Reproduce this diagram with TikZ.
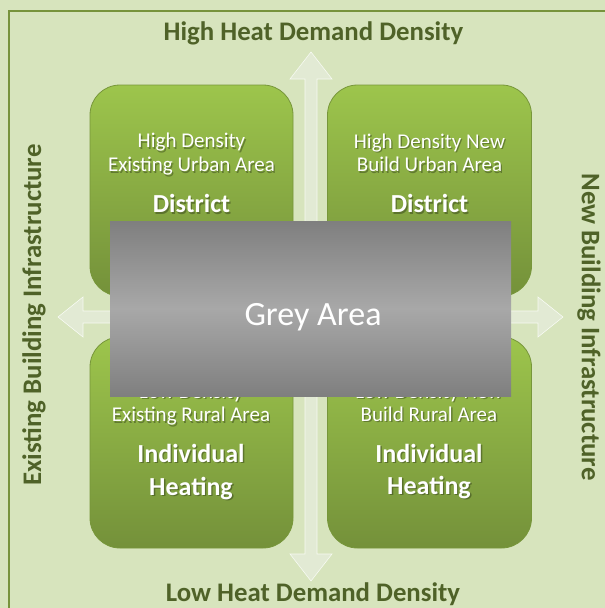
\documentclass[tikz,border=0pt]{standalone}
\usepackage{fontspec}
\setmainfont{Carlito}
\definecolor{bg}{HTML}{D7E4BD}
\definecolor{framec}{HTML}{77933C}
\definecolor{titlec}{HTML}{4F6228}
\definecolor{boxtop}{HTML}{9DC54C}
\definecolor{boxbot}{HTML}{74913A}
\definecolor{boxedge}{HTML}{77963A}
\definecolor{arrowfill}{HTML}{E2EAD4}
\definecolor{greyA}{HTML}{7F7F7F}
\definecolor{greyB}{HTML}{A8A8A8}
\newcommand\shadowtext[4]{% name, x, y, content (with font)
  \node[btxt, text=black, opacity=0.3] (#1s) at (#2+1.3,#3+1.3) {#4};
  \node[btxt, text=white] (#1) at (#2,#3) {#4};}
\begin{document}
\begin{tikzpicture}[x=1pt,y=-1pt,
  gbox/.style={draw=boxedge, line width=0.8pt, rounded corners=30pt, top color=boxtop, bottom color=boxbot, inner sep=0pt},
  btxt/.style={anchor=base, inner sep=0pt},
  axistxt/.style={text=titlec, font=\fontsize{26.8}{30}\selectfont\bfseries, inner sep=0pt},
  arrowshape/.style={fill=arrowfill, draw=white!80!bg, line width=0.6pt}]
\useasboundingbox (0,0) rectangle (605,608);
\clip (0,0) rectangle (605,608);
\fill[bg] (0,0) rectangle (605,608);
\draw[framec, line width=2.5pt] (9,640) -- (9,11) -- (640,11);
% arrows
\coordinate (vt) at (311,52);
\coordinate (vb) at (311,581);
\coordinate (hl) at (58,317);
\coordinate (hr) at (563,317);
\filldraw[arrowshape] (vt) -- ++(21,27) -- ++(-15,0) -- (317,554) -- ++(15,0) -- (vb) -- (290,554) -- ++(15,0) -- (305,79) -- ++(-15,0) -- cycle;
\filldraw[arrowshape] (hl) -- ++(25,-20) -- ++(0,14) -- (538,311) -- ++(0,-14) -- (hr) -- (538,337) -- ++(0,-14) -- (83,323) -- ++(0,14) -- cycle;
% boxes
\node[gbox, minimum width=203pt, minimum height=211pt] (tl) at (191.5,190.5) {};
\node[gbox, minimum width=204pt, minimum height=211pt] (tr) at (429.5,190.5) {};
\node[gbox, minimum width=203pt, minimum height=211pt] (bl) at (191.5,442.5) {};
\node[gbox, minimum width=204pt, minimum height=211pt] (br) at (429.5,442.5) {};
% box texts
\shadowtext{tla}{191.5}{147.7}{\fontsize{21}{24}\selectfont High Density}
\shadowtext{tlb}{191.5}{171.7}{\fontsize{21}{24}\selectfont Existing Urban Area}
\shadowtext{tlc}{191.5}{212.7}{\fontsize{26}{30}\selectfont\bfseries District}
\shadowtext{tra}{429.5}{148}{\fontsize{21}{24}\selectfont High Density New}
\shadowtext{trb}{429.5}{171.7}{\fontsize{21}{24}\selectfont Build Urban Area}
\shadowtext{trc}{429.5}{212.7}{\fontsize{26}{30}\selectfont\bfseries District}
\shadowtext{bla}{191}{398.5}{\fontsize{21}{24}\selectfont Low Density}
\shadowtext{blb}{191}{421.7}{\fontsize{21}{24}\selectfont Existing Rural Area}
\shadowtext{blc}{191}{462}{\fontsize{26}{30}\selectfont\bfseries Individual}
\shadowtext{bld}{191}{495}{\fontsize{26}{30}\selectfont\bfseries Heating}
\shadowtext{bra}{429}{398}{\fontsize{21}{24}\selectfont Low Density New}
\shadowtext{brb}{429}{421}{\fontsize{21}{24}\selectfont Build Rural Area}
\shadowtext{brc}{429}{462}{\fontsize{26}{30}\selectfont\bfseries Individual}
\shadowtext{brd}{429}{494.5}{\fontsize{26}{30}\selectfont\bfseries Heating}
% grey area
\node[minimum width=401pt, minimum height=175pt, inner sep=0pt, top color=greyA, bottom color=greyA, middle color=greyB] (grey) at (310.5,308.5) {};
\node[anchor=base, inner sep=0pt, text=white, font=\fontsize{34}{40}\selectfont] (greytxt) at (313,325) {Grey Area};
% axis labels
\node[axistxt, anchor=base] (high) at (313.5,40) {High Heat Demand Density};
\node[axistxt, anchor=base] (low) at (313,601) {Low Heat Demand Density};
\node[axistxt, rotate=90] (exist) at (34,315) {Existing Building Infrastructure};
\node[axistxt, rotate=-90] (new) at (589,327) {New Building Infrastructure};
\end{tikzpicture}
\end{document}
